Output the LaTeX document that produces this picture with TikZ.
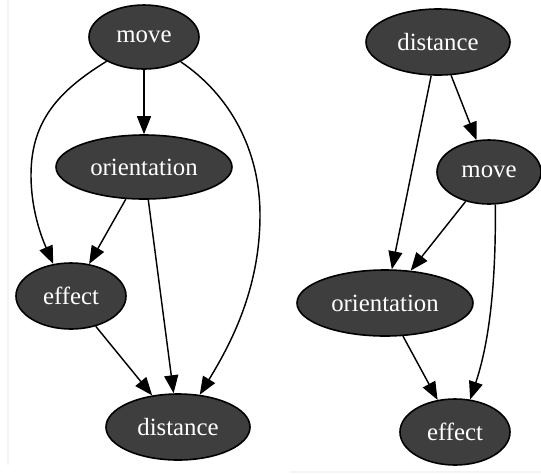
\documentclass[tikz,border=0pt]{standalone}
\usepackage{fontspec}
\setmainfont{Liberation Serif}
\usetikzlibrary{shapes.geometric,arrows.meta}
\definecolor{nodefill}{RGB}{62,62,62}
\definecolor{edgegray}{RGB}{244,244,244}
\tikzset{
  bn/.style={ellipse, draw=black, line width=0.8pt, fill=nodefill,
    text=white, font=\fontsize{12.4}{14}\selectfont, inner sep=0pt},
  edge/.style={draw=black, line width=0.72pt,
    -{Triangle[length=9pt,width=7pt]}},
}
\begin{document}
\begin{tikzpicture}[x=0.5pt,y=-0.5pt]
\useasboundingbox (0,0) rectangle (541,473);
% faint frame edges
\draw[edgegray, line width=1pt] (8,0) -- (8,465);
\draw[edgegray, line width=1pt] (290,471.5) -- (541,471.5);

% left network
\node[bn, minimum width=55pt, minimum height=32pt] (lmove) at (144,37) {move};
\node[bn, minimum width=88pt, minimum height=32pt] (lori) at (144,167) {orientation};
\node[bn, minimum width=55pt, minimum height=33pt] (leff) at (71,296) {effect};
\node[bn, minimum width=72pt, minimum height=33pt] (ldist) at (178,427) {distance};

\draw[edge] (lmove) -- (lori);
\draw[edge] (lmove.213) .. controls (60,90) and (31,120) .. (31,175)
  .. controls (31,215) and (45,245) .. (leff.119);
\draw[edge] (lmove.-34) .. controls (230,95) and (260,150) .. (260,215)
  .. controls (260,290) and (230,345) .. (ldist.56);
\draw[edge] (lori) -- (leff);
\draw[edge] (lori) -- (ldist);
\draw[edge] (leff) -- (ldist);

% right network
\node[bn, minimum width=72pt, minimum height=33pt] (rdist) at (438,42) {distance};
\node[bn, minimum width=52pt, minimum height=32pt] (rmove) at (489,172) {move};
\node[bn, minimum width=88pt, minimum height=33pt] (rori) at (385,303) {orientation};
\node[bn, minimum width=55pt, minimum height=33pt] (reff) at (455,432) {effect};

\draw[edge] (rdist) -- (rori);
\draw[edge] (rdist) -- (rmove);
\draw[edge] (rmove) -- (rori);
\draw[edge] (rmove.-79) .. controls (496,280) and (490,340) .. (reff.65);
\draw[edge] (rori) -- (reff);
\end{tikzpicture}
\end{document}
